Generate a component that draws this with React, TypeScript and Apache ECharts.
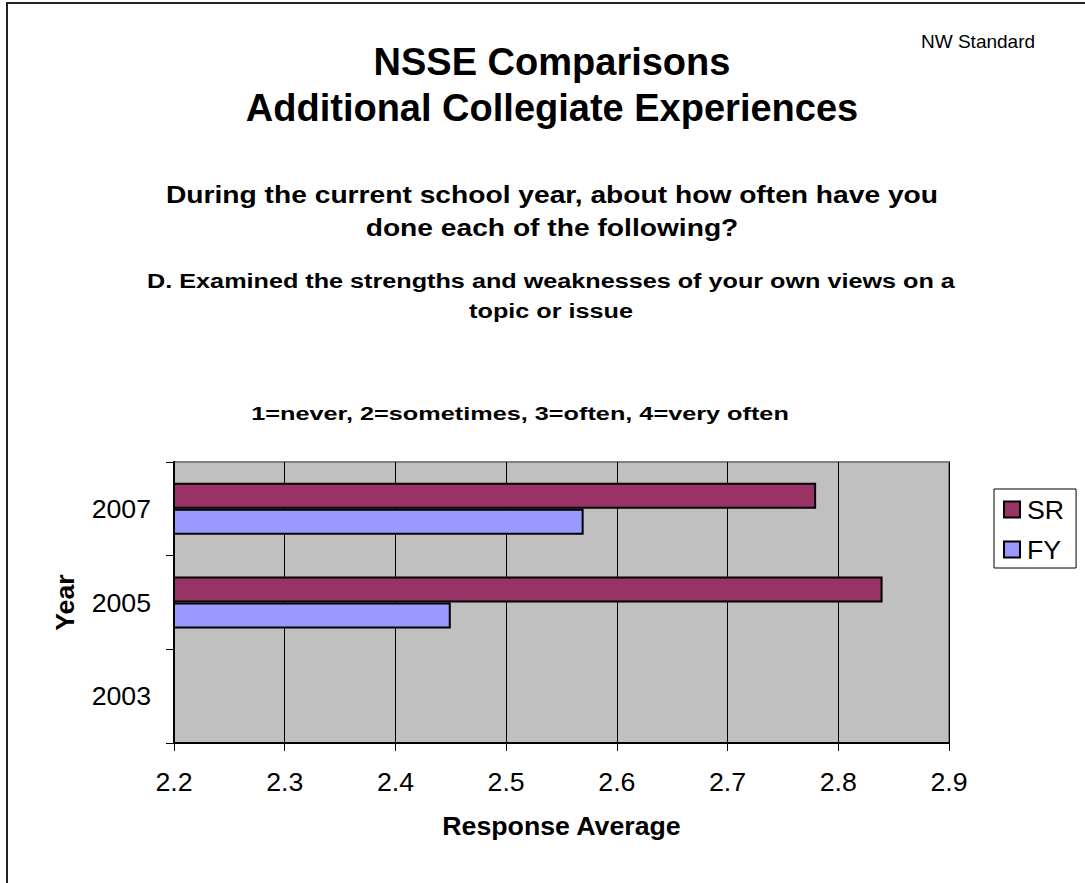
import React, { useEffect, useRef } from "react";
import * as echarts from "echarts";

const years = ["2003", "2005", "2007"];
const srValues: (number | null)[] = [null, 2.84, 2.78];
const fyValues: (number | null)[] = [null, 2.45, 2.57];
const xMin = 2.2;
const xMax = 2.9;
const xStep = 0.1;

const titleLines = ["NSSE Comparisons", "Additional Collegiate Experiences"];
const questionLines = [
  "During the current school year, about how often have you",
  "done each of the following?",
];
const itemLines = [
  "D. Examined the strengths and weaknesses of your own views on a",
  "topic or issue",
];
const scaleNote = "1=never, 2=sometimes, 3=often, 4=very often";
const cornerNote = "NW Standard";

const FONT = '"Liberation Sans", Arial, Helvetica, sans-serif';

export default function App() {
  const ref = useRef<HTMLDivElement>(null);
  useEffect(() => {
    if (!ref.current) return;
    const chart = echarts.init(ref.current, null, { renderer: "svg" });
    const txt = (
      text: string,
      x: number,
      y: number,
      size: number,
      bold: boolean,
      align = "center",
      scaleX = 1
    ) => ({
      type: "text",
      x,
      y,
      scaleX,
      silent: true,
      style: {
        text,
        font: `${bold ? "bold " : ""}${size}px ${FONT}`,
        fill: "#000",
        textAlign: align,
        textVerticalAlign: "middle",
      },
    });
    chart.setOption({
      animation: false,
      backgroundColor: "#fff",
      graphic: [
        {
          type: "rect",
          silent: true,
          shape: { x: 7, y: 3, width: 1200, height: 1000 },
          style: { fill: "none", stroke: "#222", lineWidth: 2 },
        },
        txt(cornerNote, 921, 41, 19, false, "left"),
        txt(titleLines[0], 552, 62, 38, true),
        txt(titleLines[1], 552, 108, 38, true),
        txt(questionLines[0], 552, 195, 24, true, "center", 1.175),
        txt(questionLines[1], 552, 228, 24, true, "center", 1.175),
        txt(itemLines[0], 551, 281, 21, true, "center", 1.2),
        txt(itemLines[1], 551, 311, 21, true, "center", 1.2),
        txt(scaleNote, 520, 414, 19, true, "center", 1.33),
      ],
      grid: {
        left: 174,
        top: 462,
        width: 775,
        height: 281,
        show: true,
        backgroundColor: "#C0C0C0",
        borderColor: "#808080",
        borderWidth: 2,
        containLabel: false,
      },
      legend: {
        orient: "vertical",
        left: 994,
        top: 489,
        data: ["SR", "FY"],
        icon: "rect",
        itemWidth: 16,
        itemHeight: 16,
        itemGap: 13,
        padding: [7, 12, 5, 9],
        borderColor: "#000",
        borderWidth: 1,
        backgroundColor: "#fff",
        textStyle: { fontFamily: FONT, fontSize: 26.7, color: "#000", padding: [0, 0, 0, 2] },
        itemStyle: { borderColor: "#000", borderWidth: 2 },
      },
      xAxis: {
        type: "value",
        min: xMin,
        max: xMax,
        interval: xStep,
        name: "Response Average",
        nameLocation: "middle",
        nameGap: 69,
        nameTextStyle: { fontFamily: FONT, fontSize: 26.7, fontWeight: "bold", color: "#000" },
        axisLine: { show: true, lineStyle: { color: "#000", width: 2 } },
        axisTick: { show: true, inside: false, length: 8, lineStyle: { color: "#000", width: 1 } },
        axisLabel: {
          fontFamily: FONT,
          fontSize: 26.7,
          color: "#000",
          margin: 25,
          formatter: (v: number) => v.toFixed(1),
        },
        splitLine: { show: true, lineStyle: { color: "#000", width: 1 } },
      },
      yAxis: {
        type: "category",
        data: years,
        name: "Year",
        nameLocation: "middle",
        nameRotate: 90,
        nameGap: 96,
        nameTextStyle: { fontFamily: FONT, fontSize: 26.7, fontWeight: "bold", color: "#000" },
        axisLine: { show: true, lineStyle: { color: "#000", width: 2 } },
        axisTick: { show: true, inside: false, length: 8, alignWithLabel: false, lineStyle: { color: "#000", width: 1 } },
        axisLabel: { fontFamily: FONT, fontSize: 26.7, color: "#000", margin: 23 },
        splitLine: { show: false },
      },
      series: [
        {
          name: "SR",
          type: "bar",
          data: srValues,
          barWidth: 26,
          barGap: "0%",
          itemStyle: { color: "#993366", borderColor: "#000", borderWidth: 2 },
        },
        {
          name: "FY",
          type: "bar",
          data: fyValues,
          barWidth: 26,
          barGap: "0%",
          itemStyle: { color: "#9999FF", borderColor: "#000", borderWidth: 2 },
        },
      ],
    });
    return () => chart.dispose();
  }, []);
  return (
    <div
      ref={ref}
      style={{ position: "absolute", left: 0, top: 0, width: 1085, height: 883 }}
    />
  );
}
